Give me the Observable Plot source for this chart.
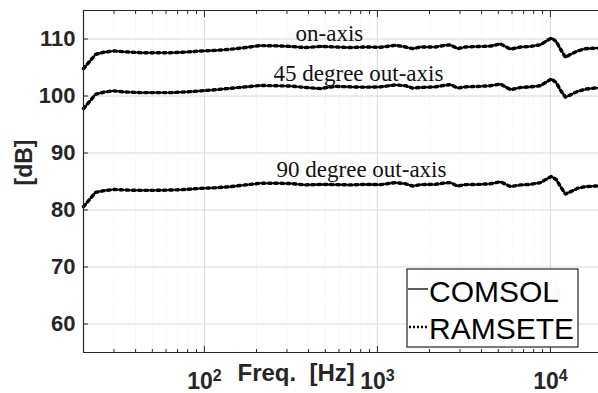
<!DOCTYPE html>
<html><head><meta charset="utf-8">
<script src="https://cdn.jsdelivr.net/npm/d3@7"></script>
<script src="https://cdn.jsdelivr.net/npm/@observablehq/plot@0.6"></script>
<style>
html,body{margin:0;padding:0;background:#fff;overflow:hidden;}
#chart{width:598px;height:393px;}
</style></head><body><div id="chart"></div>
<script>
const freq = [20, 23.5, 26.4, 29.8, 35, 42.7, 52.1, 63.7, 77.7, 94.9, 115.9, 141.5, 172.8, 210.9, 257.5, 314.5, 383.9, 468.8, 572.3, 698.8, 853.1, 1042, 1272, 1453, 1595, 1774, 2166, 2474, 2645, 2903, 3229, 3943, 4504, 5145, 5877, 6714, 7670, 8762, 10144, 10842, 11435, 12222, 13062, 14338, 15948, 18221, 20000];
const onAxis = [104.8,107.3,107.7,107.9,107.75,107.6,107.6,107.6,107.7,107.9,108.0,108.2,108.5,108.85,108.8,108.7,108.5,108.7,108.6,108.5,108.6,108.55,108.9,108.6,108.3,108.6,108.6,108.9,108.95,108.3,108.6,108.7,108.75,109.15,108.2,108.6,108.7,109.0,110.2,109.5,108.2,106.8,107.3,107.9,108.3,108.4,108.4];
const deg45 = [97.8,100.3,100.7,100.9,100.7,100.6,100.6,100.6,100.7,100.9,101.1,101.35,101.6,101.85,101.8,101.75,101.5,101.3,101.7,101.6,101.55,101.6,101.95,101.8,101.4,101.5,101.6,101.9,102.0,101.4,101.6,101.7,101.8,102.1,101.1,101.5,101.6,101.8,103.0,102.3,101.0,99.8,100.2,100.8,101.2,101.4,101.4];
const deg90 = [80.6,83.1,83.4,83.6,83.5,83.45,83.45,83.5,83.6,83.8,83.9,84.1,84.4,84.7,84.7,84.65,84.4,84.5,84.45,84.4,84.5,84.45,84.8,84.6,84.2,84.45,84.5,84.75,84.8,84.2,84.45,84.5,84.6,84.95,84.1,84.4,84.5,84.8,85.9,85.3,84.1,82.8,83.2,83.8,84.1,84.2,84.2];
const yTicks = [60, 70, 80, 90, 100, 110];
const xMajor = [100, 1000, 10000];
const xMinor = [30,40,50,60,70,80,90,200,300,400,500,600,700,800,900,2000,3000,4000,5000,6000,7000,8000,9000];
const seriesNames = ["COMSOL", "RAMSETE"];
const curveLabels = ["on-axis", "45 degree out-axis", "90 degree out-axis"];
const labelFreq = [528, 777, 809];
const labelDb = [111.0, 104.0, 87.0];

const curves = [[curveLabels[0], onAxis], [curveLabels[1], deg45], [curveLabels[2], deg90]];
const rows = curves.flatMap(([name, vals]) => freq.map((f, i) => ({curve: name, f, db: vals[i]})));
const labels = curveLabels.map((t, i) => ({t, f: labelFreq[i], db: labelDb[i]}));

const axisColor = "#262626";
const sans = "'Liberation Sans', Arial, sans-serif";

const chart = Plot.plot({
  width: 598, height: 393,
  marginLeft: 83, marginRight: 0, marginTop: 10, marginBottom: 41,
  x: {type: "log", domain: [20, 20000], range: [83, 602], label: null},
  y: {domain: [55, 115], range: [352, 10], label: null},
  style: {fontFamily: sans, background: "#fff"},
  marks: [
    Plot.gridX(xMinor, {stroke: "#ececec", strokeOpacity: 1, strokeDasharray: "1,2"}),
    Plot.gridX(xMajor, {stroke: "#d8d8d8", strokeOpacity: 1}),
    Plot.gridY(yTicks, {stroke: "#d8d8d8", strokeOpacity: 1}),
    Plot.line(rows, {x: "f", y: "db", z: "curve", stroke: "#000", strokeWidth: 1.6}),
    Plot.line(rows, {x: "f", y: "db", z: "curve", stroke: "#000", strokeWidth: 3.4, strokeDasharray: "2.6,3.6"}),
    Plot.ruleY([55], {stroke: axisColor, strokeWidth: 1.2}),
    Plot.ruleY([115], {stroke: axisColor, strokeWidth: 1.2}),
    Plot.ruleX([20], {stroke: axisColor, strokeWidth: 1.2}),
    Plot.axisX(xMajor, {anchor: "bottom", tickSize: -6, tickFormat: () => "", stroke: axisColor, label: null}),
    Plot.axisX(xMinor, {anchor: "bottom", tickSize: -3, tickFormat: () => "", stroke: axisColor, label: null}),
    Plot.axisX(xMajor, {anchor: "top", tickSize: -6, tickFormat: () => "", stroke: axisColor, label: null}),
    Plot.axisX(xMinor, {anchor: "top", tickSize: -3, tickFormat: () => "", stroke: axisColor, label: null}),
    Plot.axisY(yTicks, {anchor: "left", tickSize: -5, tickFormat: () => "", stroke: axisColor, label: null}),
    Plot.axisY(yTicks, {anchor: "left", tickSize: 0, tickPadding: 8, fontSize: 22, fontWeight: "bold", fill: axisColor, label: null}),
    Plot.axisX(xMajor, {anchor: "bottom", tickSize: 0, tickPadding: 20, fontSize: 23, fontWeight: "bold", fill: axisColor, label: null,
      tickFormat: d => "10^" + Math.round(Math.log10(d))}),
    Plot.text(["[dB]"], {frameAnchor: "left", rotate: -90, dx: -59, dy: 4, fontSize: 23, fontWeight: "bold", fill: axisColor}),
    Plot.text(["Freq.  [Hz]"], {frameAnchor: "bottom-left", dx: 154, dy: 28.5, textAnchor: "start", fontSize: 24, fontWeight: "bold", fill: axisColor}),
    Plot.text(labels, {x: "f", y: "db", text: "t", fontSize: 23, fontFamily: "'Liberation Serif', 'Times New Roman', serif", fill: "#111"})
  ]
});

const svg = d3.select(chart);
svg.selectAll("text").each(function() {
  const el = d3.select(this);
  const s = el.text();
  if (s.startsWith("10^")) {
    const p = s.slice(3);
    el.text(null);
    el.append("tspan").text("10");
    el.append("tspan").attr("dy", "-0.5em").attr("font-size", 16).text(p);
  }
});

const lg = svg.append("g").attr("text-anchor", "start");
lg.append("rect").attr("x", 407).attr("y", 269).attr("width", 171).attr("height", 78)
  .attr("fill", "#fff").attr("stroke", axisColor).attr("stroke-width", 1.2);
lg.append("line").attr("x1", 408).attr("x2", 428).attr("y1", 289).attr("y2", 289)
  .attr("stroke", "#000").attr("stroke-width", 1.3);
lg.append("line").attr("x1", 409).attr("x2", 428).attr("y1", 327).attr("y2", 327)
  .attr("stroke", "#000").attr("stroke-width", 2.5).attr("stroke-dasharray", "2,2");
lg.append("text").attr("x", 429).attr("y", 302).attr("font-size", 30).attr("font-family", sans).attr("text-anchor", "start").attr("fill", "#000").text(seriesNames[0]);
lg.append("text").attr("x", 429).attr("y", 339).attr("font-size", 30).attr("font-family", sans).attr("text-anchor", "start").attr("fill", "#000").text(seriesNames[1]);

document.getElementById("chart").append(chart);
</script>
</body></html>
